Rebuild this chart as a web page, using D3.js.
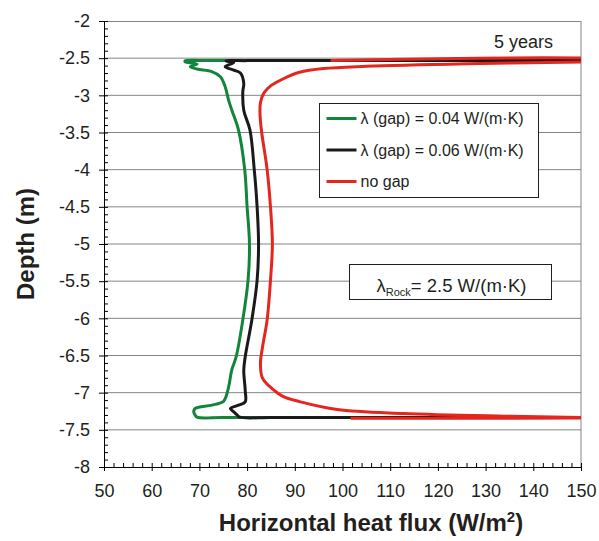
<!DOCTYPE html>
<html>
<head>
<meta charset="utf-8">
<script src="https://cdn.jsdelivr.net/npm/d3@7"></script>
<style>
  body { margin: 0; background: #fff; }
  text { font-family: "Liberation Sans", Arial, sans-serif; fill: #231f20; }
  .axis path, .axis line { stroke: #000; }
  .minor path { display: none; }
</style>
</head>
<body>
<svg id="chart" width="599" height="541"></svg>
<script>
// heat flux (W/m2) vs depth (m)
var fluxGap004 = [160, 90, 72, 67.0, 67.0, 69.5, 68.1, 69.5, 72.6, 74.4, 75.4, 76.1, 76.8, 78.2, 79.5, 80.0, 80.5, 80.2, 79.1, 77.7, 76.8, 76.2, 75.6, 75.0, 72.6, 69.1, 68.8, 69.1, 69.5, 75, 90, 160];
var depthGap004 = [-2.53, -2.531, -2.533, -2.537, -2.548, -2.58, -2.615, -2.646, -2.68, -2.75, -2.884, -3.06, -3.2, -3.467, -4.0, -4.5, -5.0, -5.49, -6.02, -6.52, -6.69, -6.9, -7.05, -7.12, -7.168, -7.213, -7.258, -7.3, -7.33, -7.334, -7.335, -7.335];

var fluxGap006 = [160, 95, 80, 75.6, 77.2, 75.4, 77.2, 78.6, 79.3, 79.1, 79.3, 80.6, 81.5, 82.1, 82.4, 82.1, 81.0, 79.6, 79.3, 79.6, 79.6, 78.2, 76.5, 77.2, 77.9, 78.5, 85, 100, 160];
var depthGap006 = [-2.53, -2.531, -2.533, -2.537, -2.56, -2.615, -2.66, -2.70, -2.84, -2.95, -3.2, -3.467, -4.0, -4.5, -5.0, -5.49, -6.02, -6.52, -6.70, -6.966, -7.124, -7.168, -7.213, -7.258, -7.30, -7.33, -7.334, -7.335, -7.335];

var fluxNoGap = [97.5, 160, 160, 150, 126, 105, 96, 91, 87.5, 85, 83.5, 82.8, 82.7, 83.0, 84.2, 84.9, 85.3, 84.9, 84.2, 83.2, 82.8, 83.2, 85.3, 87.5, 91, 98.9, 112.8, 133.8, 150.4, 160, 101.7];
var depthNoGap = [-2.53, -2.53, -2.545, -2.55, -2.575, -2.61, -2.64, -2.69, -2.78, -2.87, -2.97, -3.1, -3.24, -3.47, -4.0, -4.5, -5.0, -5.49, -6.02, -6.4, -6.6, -6.8, -6.95, -7.05, -7.12, -7.226, -7.28, -7.316, -7.334, -7.34, -7.345];

var seriesNames = ["λ (gap) = 0.04 W/(m·K)", "λ (gap) = 0.06 W/(m·K)", "no gap"];
var seriesColors = ["#13853b", "#1a1a1a", "#e4261f"];

var xTicks = [50, 60, 70, 80, 90, 100, 110, 120, 130, 140, 150];
var yTicks = [-2, -2.5, -3, -3.5, -4, -4.5, -5, -5.5, -6, -6.5, -7, -7.5, -8];

var svg = d3.select("#chart"),
    margin = {top: 21, right: 18, bottom: 74, left: 104},
    width = +svg.attr("width") - margin.left - margin.right,
    height = +svg.attr("height") - margin.top - margin.bottom;

var x = d3.scaleLinear().domain([50, 150]).range([0, width]),
    y = d3.scaleLinear().domain([-8, -2]).range([height, 0]);

var g = svg.append("g")
    .attr("transform", "translate(" + margin.left + "," + margin.top + ")");

// grid lines
g.selectAll(".grid")
    .data(yTicks.filter(function(d) { return d > -8 && d < -2; }))
    .enter().append("line")
        .attr("x1", 0).attr("x2", width)
        .attr("y1", function(d) { return y(d); })
        .attr("y2", function(d) { return y(d); })
        .attr("stroke", "#858585").attr("stroke-width", 1);

// frame top/right
g.append("line").attr("x1", 0).attr("x2", width).attr("y1", 0.5).attr("y2", 0.5).attr("stroke", "#858585");
g.append("line").attr("x1", width).attr("x2", width).attr("y1", 0).attr("y2", height).attr("stroke", "#858585");

// curves
g.append("clipPath").attr("id", "clip")
  .append("rect").attr("width", width).attr("height", height);

var line = d3.line()
    .x(function(d) { return x(d[0]); })
    .y(function(d) { return y(d[1]); })
    .curve(d3.curveCatmullRom.alpha(0.5));

var series = [
  d3.zip(fluxGap004, depthGap004),
  d3.zip(fluxGap006, depthGap006),
  d3.zip(fluxNoGap, depthNoGap)
];

g.append("g").attr("clip-path", "url(#clip)")
  .selectAll("path")
  .data(series)
  .enter().append("path")
    .attr("d", line)
    .attr("fill", "none")
    .attr("stroke", function(d, i) { return seriesColors[i]; })
    .attr("stroke-width", 3)
    .attr("stroke-linejoin", "round");

// axes
g.append("g")
    .attr("class", "axis minor")
    .attr("transform", "translate(0," + height + ")")
    .call(d3.axisTop(x).tickValues(d3.range(50, 151, 2)).tickSize(4).tickFormat(""));
g.append("g")
    .attr("class", "axis minor")
    .call(d3.axisRight(y).tickValues(d3.range(-80, -19, 1).map(function(d) { return d / 10; })).tickSize(4).tickFormat(""));

g.append("g")
    .attr("class", "axis")
    .attr("transform", "translate(0," + height + ")")
    .call(d3.axisBottom(x).tickValues(xTicks).tickSize(4).tickSizeOuter(0).tickPadding(13))
    .selectAll("text").style("font-size", "18px");

g.append("g")
    .attr("class", "axis")
    .call(d3.axisLeft(y).tickValues(yTicks).tickSize(5).tickSizeOuter(0).tickPadding(9)
        .tickFormat(function(d) { return String(d); }))
    .selectAll("text").style("font-size", "18px");

// axis titles
svg.append("text")
    .attr("x", 371).attr("y", 531)
    .attr("text-anchor", "middle")
    .style("font-size", "24px").style("font-weight", "bold")
    .html("Horizontal heat flux (W/m<tspan dy='-9' font-size='15px'>2</tspan><tspan dy='9'>)</tspan>");

svg.append("text")
    .attr("transform", "translate(34,244) rotate(-90)")
    .attr("text-anchor", "middle")
    .style("font-size", "24px").style("font-weight", "bold")
    .text("Depth (m)");

// 5 years
svg.append("text")
    .attr("x", 553).attr("y", 48)
    .attr("text-anchor", "end")
    .style("font-size", "18px")
    .text("5 years");

// legend
var legend = svg.append("g").attr("transform", "translate(319.5,103.5)");
legend.append("rect")
    .attr("width", 219).attr("height", 94)
    .attr("fill", "#fff").attr("stroke", "#231f20").attr("stroke-width", 1);
var item = legend.selectAll(".item")
    .data(seriesNames)
  .enter().append("g")
    .attr("transform", function(d, i) { return "translate(0," + (15 + i * 31.5) + ")"; });
item.append("line")
    .attr("x1", 7).attr("x2", 37)
    .attr("stroke", function(d, i) { return seriesColors[i]; })
    .attr("stroke-width", 3);
item.append("text")
    .attr("x", 41).attr("dy", "0.35em")
    .style("font-size", "16px")
    .text(function(d) { return d; });

// rock conductivity box
var box = svg.append("g").attr("transform", "translate(349.5,264.5)");
box.append("rect")
    .attr("width", 202).attr("height", 35)
    .attr("fill", "#fff").attr("stroke", "#231f20").attr("stroke-width", 1);
box.append("text")
    .attr("x", 27).attr("y", 27)
    .style("font-size", "18.5px")
    .html("λ<tspan dy='4' font-size='11px'>Rock</tspan><tspan dy='-4'>= 2.5 W/(m·K)</tspan>");
</script>
</body>
</html>
